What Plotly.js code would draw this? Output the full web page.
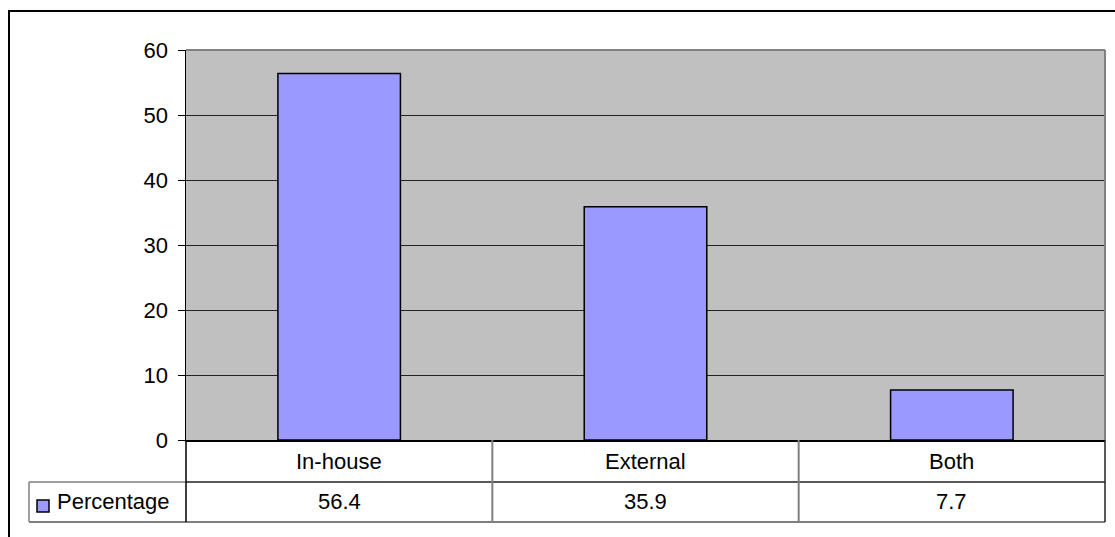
<!DOCTYPE html>
<html>
<head>
<meta charset="utf-8">
<script src="https://cdn.plot.ly/plotly-3.0.1.min.js"></script>
<style>
html,body{margin:0;padding:0;background:#fff;}
#chart{width:1115px;height:537px;}
</style>
</head>
<body>
<div id="chart"></div>
<script>
const categories = ["In-house", "External", "Both"];
const percentage = [56.4, 35.9, 7.7];
const seriesName = "Percentage";
const yTicks = [0, 10, 20, 30, 40, 50, 60];

const W = 1115, H = 537;
const L = 186, R = 1105, T = 50, B = 440;
const PW = R - L, PH = B - T;
const px = v => (v - L) / PW;
const py = v => (B - v) / PH;

const row1 = 482, row2 = 522, legLeft = 29;
const FONT = "Liberation Sans, Arial, sans-serif";
const FS = 22;

const shapes = [];
function line(x0, y0, x1, y1, color, width) {
  shapes.push({type: "line", xref: "paper", yref: "paper",
    x0: px(x0), y0: py(y0), x1: px(x1), y1: py(y1),
    line: {color: color, width: width}});
}
// outer chart border
shapes.push({type: "rect", xref: "paper", yref: "paper",
  x0: px(9), y0: py(11), x1: px(1130), y1: py(560),
  line: {color: "#000", width: 2}});
// plot area frame (top & right gray)
line(L, T, R, T, "#808080", 2);
line(R, T, R, B, "#808080", 2);
// table lines
line(L, row1, R, row1, "#222", 1.5);
line(legLeft, row1, L, row1, "#808080", 1.5);
line(legLeft, row2, R, row2, "#808080", 2);
line(legLeft, row1, legLeft, row2, "#808080", 1.5);
line(L, B, L, row2, "#000", 1.5);
const colW = PW / categories.length;
for (let i = 1; i < categories.length; i++) {
  line(L + colW * i, B, L + colW * i, row2, "#808080", 2);
}
line(R, B, R, row2, "#222", 1.5);
// legend key
shapes.push({type: "rect", xref: "paper", yref: "paper",
  x0: px(37), y0: py(512), x1: px(49), y1: py(500),
  fillcolor: "#9999FF", line: {color: "#000", width: 1.5}});

const annotations = [];
categories.forEach((c, i) => {
  annotations.push({x: c, xref: "x", y: py((B + row1) / 2), yref: "paper",
    text: c, showarrow: false, xanchor: "center", yanchor: "middle",
    font: {family: FONT, size: FS, color: "#000"}});
  annotations.push({x: c, xref: "x", y: py((row1 + row2) / 2), yref: "paper",
    text: String(percentage[i]), showarrow: false, xanchor: "center", yanchor: "middle",
    font: {family: FONT, size: FS, color: "#000"}});
});
annotations.push({x: px(55), xref: "paper", y: py((row1 + row2) / 2), yref: "paper",
  text: seriesName, showarrow: false, xanchor: "left", yanchor: "middle",
  font: {family: FONT, size: FS, color: "#000"}});

const data = [{
  type: "bar", x: categories, y: percentage, name: seriesName,
  marker: {color: "#9999FF", line: {color: "#000", width: 1.5}},
  hoverinfo: "none"
}];

const layout = {
  width: W, height: H,
  margin: {l: L, r: W - R, t: T, b: H - B, pad: 0},
  paper_bgcolor: "#fff", plot_bgcolor: "#C0C0C0",
  showlegend: false, bargap: 0.6,
  font: {family: FONT, size: FS, color: "#000"},
  xaxis: {showticklabels: false, ticks: "", showgrid: false, zeroline: false,
    showline: true, linecolor: "#000", linewidth: 1.5, fixedrange: true},
  yaxis: {range: [0, 60], tickvals: yTicks, ticktext: yTicks.map(String),
    ticks: "outside", ticklen: 7, tickcolor: "#000", tickwidth: 1,
    showgrid: true, gridcolor: "#222", gridwidth: 1, zeroline: false,
    showline: true, linecolor: "#000", linewidth: 1.5,
    tickfont: {family: FONT, size: FS, color: "#000"}, ticklabelstandoff: 5,
    fixedrange: true},
  shapes: shapes, annotations: annotations
};

Plotly.newPlot("chart", data, layout, {displayModeBar: false, staticPlot: true});
</script>
</body>
</html>
